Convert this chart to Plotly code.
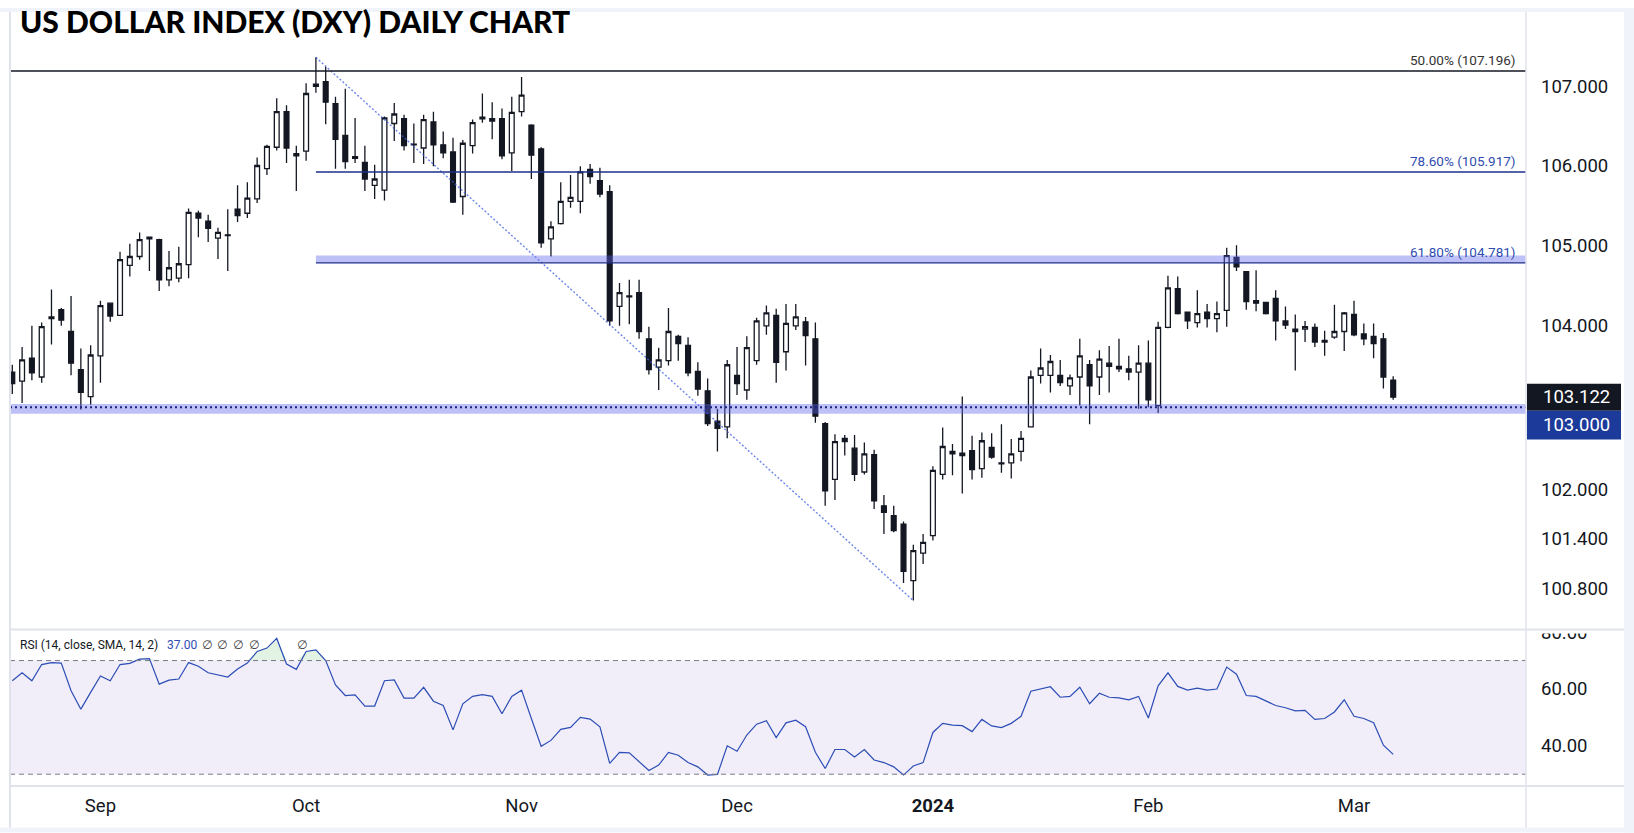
import numpy as np
import pandas as pd
import plotly.graph_objects as go

# ---------------- data ----------------
holidays = ["2023-12-25", "2024-01-01"]
all_days = pd.bdate_range("2023-08-21", "2024-03-07")
dates = [d.strftime("%Y-%m-%d") for d in all_days if d.strftime("%Y-%m-%d") not in holidays]

open_ = [103.43, 103.32, 103.60, 103.37, 104.11, 104.20, 103.93, 103.46, 103.13, 103.63,
         104.28, 104.13, 104.75, 104.86, 105.08, 105.07, 104.57, 104.59, 104.76, 105.40,
         105.30, 105.09, 105.13, 105.45, 105.40, 105.58, 105.96, 106.23, 106.68, 106.15,
         106.18, 107.03, 107.06, 106.78, 106.38, 106.11, 106.04, 105.75, 105.69, 106.53,
         106.59, 106.27, 106.22, 106.55, 106.26, 106.17, 105.61, 106.25, 106.59, 106.59,
         106.59, 106.16, 106.68, 106.51, 106.21, 105.08, 105.27, 105.55, 105.55, 105.95,
         105.81, 105.67, 104.24, 104.37, 104.41, 103.84, 103.49, 103.57, 103.87, 103.76,
         103.44, 103.20, 102.83, 102.76, 103.39, 103.21, 103.57, 104.00, 104.13, 103.68,
         104.00, 104.05, 103.84, 102.80, 102.12, 102.62, 102.50, 102.21, 102.42, 101.80,
         101.68, 101.58, 100.90, 101.23, 101.44, 102.18, 102.46, 102.41, 102.47, 102.25,
         102.51, 102.32, 102.32, 102.46, 102.76, 103.39, 103.39, 103.39, 103.26, 103.37,
         103.52, 103.37, 103.54, 103.50, 103.47, 103.43, 103.54, 103.02, 103.98, 104.46,
         104.17, 104.04, 104.17, 104.09, 104.19, 104.85, 104.67, 104.31, 104.29, 104.34,
         104.06, 103.93, 103.96, 103.98, 103.80, 103.86, 103.93, 104.14, 103.90, 103.87,
         103.84, 103.33]
high = [103.52, 103.74, 104.00, 104.04, 104.45, 104.22, 104.37, 103.72, 103.76, 104.31,
        104.29, 104.92, 105.02, 105.16, 105.11, 105.08, 104.93, 104.98, 105.46, 105.43,
        105.38, 105.22, 105.45, 105.75, 105.79, 106.10, 106.26, 106.85, 106.76, 106.25,
        107.04, 107.37, 107.25, 106.87, 106.97, 106.60, 106.25, 106.01, 106.62, 106.79,
        106.64, 106.53, 106.64, 106.68, 106.43, 106.35, 106.32, 106.58, 106.91, 106.80,
        106.72, 106.87, 107.12, 106.52, 106.23, 105.30, 105.79, 105.88, 105.99, 106.02,
        105.97, 105.75, 104.53, 104.57, 104.57, 103.99, 103.73, 104.22, 103.89, 103.86,
        103.55, 103.35, 102.98, 103.58, 103.74, 103.87, 104.10, 104.25, 104.21, 104.27,
        104.27, 104.11, 104.04, 102.82, 102.67, 102.66, 102.66, 102.57, 102.48, 101.93,
        101.80, 101.61, 101.33, 101.46, 102.28, 102.75, 102.55, 103.13, 102.65, 102.69,
        102.68, 102.79, 102.61, 102.71, 103.45, 103.72, 103.64, 103.58, 103.40, 103.84,
        103.58, 103.70, 103.75, 103.84, 103.63, 103.76, 103.82, 104.05, 104.62, 104.61,
        104.17, 104.44, 104.27, 104.30, 104.97, 105.00, 104.68, 104.69, 104.29, 104.44,
        104.24, 104.14, 104.06, 104.03, 103.94, 104.26, 104.17, 104.31, 104.03, 104.03,
        103.91, 103.38]
low = [103.16, 103.05, 103.33, 103.30, 103.77, 104.00, 103.39, 102.97, 103.03, 103.30,
       104.05, 104.12, 104.61, 104.82, 104.68, 104.43, 104.49, 104.54, 104.59, 105.10,
       105.04, 104.83, 104.68, 105.29, 105.34, 105.53, 105.88, 106.19, 106.03, 105.68,
       106.06, 106.92, 106.52, 105.96, 105.96, 106.03, 105.68, 105.58, 105.56, 106.31,
       106.19, 106.03, 106.02, 105.99, 106.09, 105.53, 105.38, 106.15, 106.54, 106.33,
       106.08, 105.93, 106.62, 105.83, 104.97, 104.86, 105.26, 105.47, 105.40, 105.77,
       105.60, 104.00, 104.00, 104.02, 103.84, 103.40, 103.21, 103.51, 103.57, 103.38,
       103.14, 102.77, 102.46, 102.62, 103.15, 103.09, 103.52, 103.89, 103.30, 103.45,
       103.95, 103.51, 102.81, 101.80, 101.87, 102.41, 102.10, 102.18, 101.76, 101.46,
       101.48, 100.87, 100.66, 101.10, 101.38, 102.12, 102.17, 101.95, 102.12, 102.14,
       102.37, 102.20, 102.13, 102.34, 102.76, 103.29, 103.18, 103.26, 103.15, 103.02,
       102.79, 103.15, 103.18, 103.43, 103.33, 102.98, 103.00, 102.93, 103.97, 104.14,
       103.96, 103.98, 103.98, 103.92, 103.99, 104.68, 104.20, 104.18, 104.14, 103.82,
       103.96, 103.45, 103.80, 103.74, 103.63, 103.84, 103.69, 103.87, 103.76, 103.60,
       103.23, 103.09]
close = [103.29, 103.58, 103.42, 103.99, 104.09, 104.07, 103.54, 103.18, 103.64, 104.25,
         104.12, 104.82, 104.86, 105.07, 105.10, 104.57, 104.72, 104.77, 105.41, 105.34,
         105.21, 105.16, 105.12, 105.37, 105.59, 106.00, 106.24, 106.68, 106.22, 106.12,
         106.91, 107.00, 106.80, 106.33, 106.05, 106.09, 105.83, 105.83, 106.60, 106.65,
         106.25, 106.26, 106.58, 106.26, 106.16, 105.54, 106.28, 106.54, 106.61, 106.56,
         106.12, 106.67, 106.89, 106.13, 105.03, 105.23, 105.55, 105.60, 105.92, 105.86,
         105.64, 104.06, 104.41, 104.36, 103.93, 103.46, 103.58, 103.93, 103.78, 103.42,
         103.22, 102.80, 102.74, 103.52, 103.29, 103.73, 104.06, 104.16, 103.55, 104.03,
         104.11, 103.88, 102.89, 101.98, 102.58, 102.58, 102.18, 102.43, 101.86, 101.72,
         101.50, 101.01, 101.26, 101.36, 102.23, 102.52, 102.43, 102.44, 102.24, 102.59,
         102.39, 102.31, 102.43, 102.62, 103.37, 103.48, 103.56, 103.30, 103.36, 103.63,
         103.26, 103.59, 103.50, 103.47, 103.43, 103.54, 103.09, 103.98, 104.47, 104.15,
         104.06, 104.15, 104.09, 104.15, 104.87, 104.73, 104.30, 104.28, 104.15, 104.06,
         104.01, 103.96, 103.99, 103.80, 103.82, 103.93, 104.16, 103.89, 103.84, 103.78,
         103.37, 103.122]
rsi = [62.9, 65.7, 62.9, 68.6, 69.3, 69.1, 59.4, 52.9, 58.8, 64.6,
       62.9, 68.6, 69.0, 70.5, 70.7, 61.7, 63.1, 63.5, 69.3, 68.0,
       65.7, 64.9, 64.2, 67.0, 69.1, 73.2, 74.4, 77.8, 68.8, 66.9,
       73.2, 73.8, 70.0, 61.4, 57.7, 57.9, 54.0, 54.0, 62.9, 63.2,
       56.8, 56.8, 60.6, 55.7, 54.2, 45.6, 54.8, 57.4, 58.0, 57.4,
       51.3, 57.4, 59.6, 49.6, 39.8, 41.9, 45.8, 46.5, 50.0, 49.4,
       46.7, 33.8, 37.7, 37.5, 34.4, 31.3, 33.2, 37.7, 36.7, 34.1,
       32.6, 29.7, 29.9, 40.0, 38.1, 43.8, 47.6, 48.8, 42.9, 48.1,
       49.0, 46.7, 37.7, 32.0, 38.7, 38.7, 36.1, 38.7, 35.0, 34.1,
       32.6, 29.7, 32.9, 34.1, 44.7, 47.9, 47.3, 47.1, 45.0, 49.3,
       47.0, 46.4, 47.9, 50.4, 59.2, 60.0, 60.8, 57.1, 57.4, 60.6,
       54.8, 58.5, 57.1, 56.9, 56.2, 57.4, 49.8, 61.1, 65.7, 60.9,
       59.6, 60.3, 59.6, 60.0, 67.7, 65.2, 57.7, 57.4, 55.7, 54.2,
       53.4, 52.3, 52.5, 49.3, 49.6, 51.9, 56.2, 50.4, 49.6, 48.1,
       40.2, 37.0]

month_ticks = ["2023-09-01", "2023-10-02", "2023-11-01", "2023-12-01",
               "2024-01-02", "2024-02-01", "2024-03-01"]
month_labels = ["Sep", "Oct", "Nov", "Dec", "<b>2024</b>", "Feb", "Mar"]
price_ticks = [100.8, 101.4, 102.0, 104.0, 105.0, 106.0, 107.0]
rsi_ticks = [40, 60, 80]

fib_names = ["50.00%", "78.60%", "61.80%"]
fib_values = [107.196, 105.917, 104.781]
support_level = 103.0
swing_high_date, swing_low_date = "2023-10-03", "2023-12-28"
rsi_upper, rsi_lower = 70, 30

# ---------------- geometry helpers (pixels -> paper) ----------------
W, H = 1634, 833
PL, PR, PT, PB = 10, 1526, 4, 786
SPLIT = 628


def px(x):
    return (x - PL) / (PR - PL)


def py(y):
    return (PB - y) / (PB - PT)


split = py(SPLIT)
TXT = "#131722"
BLUE = "#2f4db0"
NAVY = "#1c2f8a"
SEP = "#e0e3eb"
FRAME = "#f0f3fa"
lg = np.log10

fig = go.Figure()

fig.add_trace(go.Candlestick(
    x=dates, open=open_, high=high, low=low, close=close,
    increasing=dict(line=dict(color=TXT, width=1.3), fillcolor="#ffffff"),
    decreasing=dict(line=dict(color=TXT, width=1.3), fillcolor=TXT),
    whiskerwidth=0, showlegend=False, hoverinfo="skip", xaxis="x", yaxis="y"))

rsi_arr = np.array(rsi)
n = len(dates)
fig.add_trace(go.Scatter(x=dates, y=[rsi_upper] * n, mode="lines", line=dict(width=0),
                         hoverinfo="skip", xaxis="x2", yaxis="y2"))
fig.add_trace(go.Scatter(x=dates, y=np.maximum(rsi_arr, rsi_upper), mode="lines",
                         line=dict(width=0), fill="tonexty",
                         fillcolor="rgba(76,175,80,0.16)", hoverinfo="skip",
                         xaxis="x2", yaxis="y2"))
fig.add_trace(go.Scatter(x=dates, y=[rsi_lower] * n, mode="lines", line=dict(width=0),
                         hoverinfo="skip", xaxis="x2", yaxis="y2"))
fig.add_trace(go.Scatter(x=dates, y=np.minimum(rsi_arr, rsi_lower), mode="lines",
                         line=dict(width=0), fill="tonexty",
                         fillcolor="rgba(242,54,69,0.14)", hoverinfo="skip",
                         xaxis="x2", yaxis="y2"))
fig.add_trace(go.Scatter(x=dates, y=rsi, mode="lines",
                         line=dict(color="#2c4db5", width=1.2),
                         hoverinfo="skip", xaxis="x2", yaxis="y2"))

xr = [-0.235, 154.56]
tickfont = dict(family="Roboto", size=18.5, color=TXT)

fig.update_layout(
    width=W, height=H,
    margin=dict(l=PL, r=W - PR, t=PT, b=H - PB, pad=0),
    paper_bgcolor="white", plot_bgcolor="white", showlegend=False,
    xaxis=dict(type="category", domain=[0, 1], anchor="y", range=xr,
               showticklabels=False, showgrid=False, zeroline=False, showline=False,
               ticks="", rangeslider=dict(visible=False)),
    yaxis=dict(type="log", domain=[split, 1], anchor="x", side="right",
               range=[2.0013609, 2.0332237], tickmode="array", tickvals=price_ticks,
               ticktext=[f"{v:.3f}" for v in price_ticks], showgrid=False,
               zeroline=False, showline=False, ticks="", tickfont=tickfont,
               ticklabelstandoff=14),
    xaxis2=dict(type="category", domain=[0, 1], anchor="y2", matches="x", range=xr,
                tickmode="array", tickvals=month_ticks, ticktext=month_labels,
                showgrid=False, zeroline=False, showline=False, ticks="",
                tickfont=tickfont, ticklabelstandoff=6),
    yaxis2=dict(domain=[0, split], anchor="x2", side="right", range=[25.85, 80.9],
                tickmode="array", tickvals=rsi_ticks,
                ticktext=[f"{v:.2f}" for v in rsi_ticks], showgrid=False,
                zeroline=False, showline=False, ticks="", tickfont=tickfont,
                ticklabelstandoff=14),
)

shapes = []
# RSI band and dashed levels
shapes.append(dict(type="rect", xref="paper", yref="y2", x0=0, x1=1, y0=rsi_lower,
                   y1=rsi_upper, fillcolor="#f1eef9", line=dict(width=0), layer="below"))
for lvl in (rsi_upper, rsi_lower):
    shapes.append(dict(type="line", xref="paper", yref="y2", x0=0, x1=1, y0=lvl, y1=lvl,
                       line=dict(color="#787b86", width=1, dash="5px,4px"), layer="above"))

# fib diagonal (data coordinates on the log axis)
i_hi = dates.index(swing_high_date)
i_lo = dates.index(swing_low_date)
shapes.append(dict(type="line", xref="x", yref="y", x0=swing_high_date, x1=swing_low_date,
                   y0=high[i_hi], y1=low[i_lo],
                   line=dict(color="rgba(60,95,225,0.75)", width=1.4, dash="2px,2px"),
                   layer="above"))

band_col = "rgba(92,98,238,0.40)"
# 61.8% band (starts at swing high)
shapes.append(dict(type="rect", xref="x", yref="y", x0=swing_high_date, x1=xr[1] + 5,
                   y0=fib_values[2], y1=fib_values[2] + 0.093,
                   fillcolor=band_col, line=dict(width=0), layer="above"))
# support band
shapes.append(dict(type="rect", xref="paper", yref="y", x0=0, x1=1,
                   y0=support_level - 0.08, y1=support_level + 0.04,
                   fillcolor=band_col, line=dict(width=0), layer="above"))
shapes.append(dict(type="line", xref="paper", yref="y", x0=0, x1=1,
                   y0=support_level, y1=support_level,
                   line=dict(color="#1a237e", width=2, dash="2px,3px"), layer="above"))
# fib lines
shapes.append(dict(type="line", xref="paper", yref="y", x0=0, x1=1,
                   y0=fib_values[0], y1=fib_values[0],
                   line=dict(color=TXT, width=1.4), layer="above"))
for v in fib_values[1:]:
    shapes.append(dict(type="line", xref="x", yref="y", x0=swing_high_date, x1=xr[1] + 5,
                       y0=v, y1=v, line=dict(color=NAVY, width=1.4), layer="above"))

# frame strips
shapes.append(dict(type="rect", xref="paper", yref="paper", x0=px(0), x1=px(W),
                   y0=py(PT), y1=py(0), fillcolor=FRAME, line=dict(width=0), layer="above"))
shapes.append(dict(type="rect", xref="paper", yref="paper", x0=px(0), x1=px(W),
                   y0=py(H), y1=py(828), fillcolor=FRAME, line=dict(width=0), layer="above"))
shapes.append(dict(type="rect", xref="paper", yref="paper", x0=px(1624), x1=px(W),
                   y0=py(H), y1=py(0), fillcolor=FRAME, line=dict(width=0), layer="above"))
# mask the upper half of the top RSI label
shapes.append(dict(type="rect", xref="paper", yref="paper", x0=px(1527), x1=px(1623),
                   y0=py(632), y1=py(604), fillcolor="white", line=dict(width=0),
                   layer="above"))
# separators
shapes.append(dict(type="line", xref="paper", yref="paper", x0=px(PL), x1=px(PL),
                   y0=py(828), y1=py(PT), line=dict(color=SEP, width=2), layer="above"))
shapes.append(dict(type="line", xref="paper", yref="paper", x0=px(PR), x1=px(PR),
                   y0=py(828), y1=py(PT), line=dict(color=SEP, width=1.5), layer="above"))
for yy in (SPLIT, PB):
    shapes.append(dict(type="line", xref="paper", yref="paper", x0=px(PL), x1=px(1624),
                       y0=py(yy), y1=py(yy), line=dict(color=SEP, width=2), layer="above"))

# price tags on the axis
last = close[-1]
half = 0.0007          # half tag height, in log10 units
tag_h = 0.00148
shapes.append(dict(type="rect", xref="paper", yref="y", x0=px(1527), x1=px(1621),
                   y0=last * 10 ** (-half), y1=last * 10 ** half, fillcolor=TXT,
                   line=dict(width=0), layer="above"))
shapes.append(dict(type="rect", xref="paper", yref="y", x0=px(1527), x1=px(1621),
                   y0=last * 10 ** (-half - tag_h), y1=last * 10 ** (-half),
                   fillcolor="#1b3a9a", line=dict(width=0), layer="above"))
fig.update_layout(shapes=shapes)

ann = []
ann.append(dict(text="US DOLLAR INDEX (DXY) DAILY CHART", xref="paper", yref="paper",
                x=px(18), y=py(13), xanchor="left", yanchor="middle", showarrow=False,
                font=dict(family="Lato", size=30, color="#000000", weight=900)))
fib_colors = ["#333333", BLUE, BLUE]
for name, v, c in zip(fib_names, fib_values, fib_colors):
    ann.append(dict(text=f"{name} ({v:.3f})", xref="paper", yref="y", x=px(1518),
                    y=lg(v), xanchor="right", yanchor="bottom", yshift=1, showarrow=False,
                    font=dict(family="Roboto", size=13.5, color=c)))
ann.append(dict(text=f"{last:.3f}", xref="paper", yref="y", x=px(1541), y=lg(last),
                xanchor="left", yanchor="middle", showarrow=False,
                font=dict(family="Roboto", size=18.5, color="white")))
ann.append(dict(text=f"{support_level:.3f}", xref="paper", yref="y", x=px(1541),
                y=lg(last) - half - tag_h / 2, xanchor="left", yanchor="middle",
                showarrow=False, font=dict(family="Roboto", size=18.5, color="white")))
small = dict(family="Roboto", size=12, color=TXT)
ann.append(dict(text="RSI (14, close, SMA, 14, 2)", xref="paper", yref="paper", x=px(18),
                y=py(644), xanchor="left", yanchor="middle", showarrow=False, font=small))
ann.append(dict(text=f"{rsi[-1]:.2f}", xref="paper", yref="paper", x=px(165), y=py(644),
                xanchor="left", yanchor="middle", showarrow=False,
                font=dict(family="Roboto", size=12, color="#2c4db5")))
for xx in (207, 222, 238, 254, 302):
    ann.append(dict(text="\u2205", xref="paper", yref="paper", x=px(xx), y=py(644),
                    xanchor="center", yanchor="middle", showarrow=False,
                    font=dict(family="DejaVu Sans", size=12, color="#444")))
fig.update_layout(annotations=ann)

fig.write_html("out.html", config={"displayModeBar": False},
               post_script="document.body.style.margin='0px';")
